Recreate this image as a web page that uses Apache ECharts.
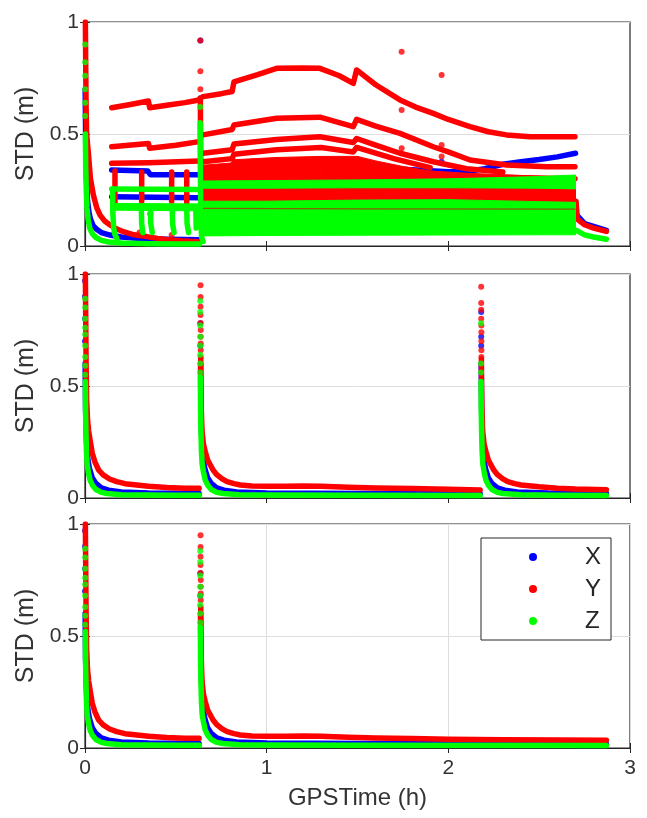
<!DOCTYPE html>
<html>
<head>
<meta charset="utf-8">
<title>STD (m) vs GPSTime (h)</title>
<script src="https://cdn.jsdelivr.net/npm/echarts@6/dist/echarts.min.js"></script>
<style>
  html, body { margin: 0; padding: 0; background: #fff; }
  #chart { width: 647px; height: 818px; }
</style>
</head>
<body>
<div id="chart"></div>
<script>
// Axis ticks shared by the three panels
const X_TICKS = [0, 1, 2, 3];
const Y_TICKS = [0, 0.5, 1];
const COMPONENTS = ['X', 'Y', 'Z'];

// ---------- top panel ----------
const TOP_X_TRACKS = [
  [[0.001,0.7],[0.004,0.45],[0.008,0.3],[0.014,0.2],[0.022,0.15],[0.03,0.12],[0.045,0.09],[0.064,0.075],[0.09,0.06],[0.138,0.049],[0.2,0.04],[0.3,0.034],[0.45,0.03],[0.63,0.028]],
  [[0.147,0.339],[0.345,0.335],[0.36,0.318],[0.625,0.318]],
  [[0.147,0.22],[0.625,0.215]],
  [[0.65,0.34],[0.9,0.35],[1.2,0.36],[1.5,0.35],[1.8,0.34],[2.0,0.332],[2.1,0.333],[2.2,0.345],[2.3,0.365],[2.4,0.376],[2.5,0.386],[2.6,0.398],[2.7,0.414]],
  [[2.705,0.14],[2.75,0.1],[2.87,0.07]]
];
const TOP_X_DOTS = [[0.635,0.917],[0.635,0.66],[0.36,0.143],[1.963,0.376]];
const TOP_X_BANDS = [];

const TOP_Y_TRACKS = [
  [[0.002,1.0],[0.004,0.8],[0.006,0.62],[0.009,0.5],[0.018,0.42],[0.03,0.3],[0.046,0.228],[0.065,0.17],[0.083,0.138],[0.11,0.11],[0.138,0.094],[0.17,0.078],[0.211,0.064],[0.27,0.05],[0.34,0.042],[0.4,0.034],[0.468,0.027],[0.53,0.023],[0.595,0.02],[0.628,0.019]],
  [[0.147,0.617],[0.25,0.632],[0.349,0.647],[0.356,0.617],[0.45,0.628],[0.55,0.64],[0.628,0.652]],
  [[0.147,0.443],[0.349,0.458],[0.356,0.436],[0.5,0.45],[0.628,0.466]],
  [[0.147,0.369],[0.35,0.372],[0.628,0.38]],
  [[0.165,0.335],[0.165,0.17]],
  [[0.312,0.33],[0.312,0.2]],
  [[0.477,0.33],[0.477,0.2]],
  [[0.56,0.33],[0.56,0.17]],
  [[0.635,0.66],[0.636,0.5],[0.637,0.3],[0.638,0.2]],
  [[0.65,0.667],[0.75,0.68],[0.81,0.69],[0.82,0.733],[0.95,0.765],[1.055,0.793],[1.2,0.795],[1.293,0.793],[1.4,0.76],[1.477,0.726],[1.495,0.786],[1.6,0.72],[1.734,0.652],[1.82,0.62],[1.917,0.592],[2.0,0.565],[2.119,0.533],[2.22,0.51],[2.32,0.496],[2.45,0.488],[2.54,0.488],[2.697,0.488]],
  [[0.65,0.496],[0.81,0.52],[0.82,0.54],[1.055,0.57],[1.293,0.575],[1.477,0.533],[1.495,0.565],[1.6,0.535],[1.734,0.503],[1.917,0.443],[2.0,0.42],[2.119,0.384],[2.32,0.362],[2.54,0.354],[2.697,0.354]],
  [[0.65,0.414],[0.81,0.43],[0.82,0.455],[1.055,0.475],[1.293,0.488],[1.477,0.462],[1.495,0.48],[1.6,0.45],[1.734,0.414],[1.917,0.376],[2.1,0.345],[2.3,0.33]],
  [[0.65,0.376],[0.81,0.39],[0.82,0.41],[1.055,0.43],[1.3,0.44],[1.477,0.42],[1.495,0.44],[1.7,0.39],[1.9,0.35]],
  [[2.0,0.31],[2.697,0.3]],
  [[2.703,0.2],[2.71,0.12],[2.75,0.095],[2.8,0.08],[2.87,0.065]]
];
const TOP_Y_DOTS = [[0.635,0.917],[0.635,0.78],[0.635,0.70],[1.743,0.867],[1.743,0.607],[1.743,0.436],[1.963,0.763],[1.963,0.451],[1.963,0.4],[0.477,0.049],[0.3,0.06]];
const TOP_Y_BANDS = [
  [[0.64,0.27,0.36],[0.8,0.27,0.37],[0.82,0.27,0.385],[1.05,0.27,0.395],[1.3,0.27,0.4],[1.5,0.27,0.4],[1.6,0.27,0.38],[1.75,0.27,0.355],[1.9,0.27,0.335],[2.1,0.27,0.325],[2.4,0.27,0.315],[2.7,0.27,0.305]],
  [[0.64,0.198,0.262],[1.5,0.198,0.262],[2.0,0.198,0.265],[2.7,0.195,0.27]]
];

const TOP_Z_TRACKS = [
  [[0.002,0.5],[0.004,0.35],[0.007,0.25],[0.011,0.17],[0.017,0.12],[0.026,0.08],[0.04,0.055],[0.06,0.038],[0.09,0.025],[0.13,0.018],[0.2,0.013],[0.35,0.01],[0.5,0.009],[0.63,0.009]],
  [[0.147,0.255],[0.63,0.252]],
  [[0.152,0.255],[0.153,0.15],[0.158,0.08],[0.165,0.05],[0.175,0.035]],
  [[0.31,0.17],[0.312,0.1],[0.318,0.06]],
  [[0.36,0.17],[0.362,0.1],[0.37,0.06]],
  [[0.48,0.17],[0.482,0.1],[0.49,0.06]],
  [[0.56,0.17],[0.562,0.1],[0.57,0.06]],
  [[0.61,0.17],[0.612,0.08]],
  [[0.634,0.55],[0.635,0.4],[0.636,0.25],[0.638,0.1],[0.642,0.04],[0.65,0.02]],
  [[2.705,0.07],[2.75,0.05],[2.8,0.04],[2.87,0.03]]
];
const TOP_Z_DOTS = [[0.001,0.9],[0.001,0.82],[0.001,0.76],[0.001,0.7],[0.001,0.64],[0.001,0.58],[0.634,0.62]];
const TOP_Z_BANDS = [
  [[0.147,0.16,0.19],[0.63,0.157,0.188]],
  [[0.64,0.258,0.29],[1.0,0.258,0.292],[1.5,0.26,0.295],[2.0,0.26,0.3],[2.5,0.258,0.31],[2.7,0.255,0.317]],
  [[0.64,0.045,0.2],[1.0,0.047,0.2],[1.5,0.048,0.205],[2.0,0.049,0.207],[2.5,0.05,0.198],[2.7,0.05,0.195]]
];
// thin Y trace visible through the Z band
const TOP_Y_THIN = [[0.65,0.168],[1.5,0.166],[2.7,0.165]];

// ---------- middle panel ----------
const MID_X_TRACKS = [
  [[0.001,0.6],[0.003,0.4],[0.006,0.3],[0.01,0.22],[0.016,0.17],[0.025,0.13],[0.04,0.09],[0.06,0.065],[0.09,0.045],[0.13,0.035],[0.2,0.027],[0.35,0.022],[0.628,0.02]],
  [[0.636,0.6],[0.638,0.4],[0.641,0.3],[0.645,0.22],[0.651,0.17],[0.66,0.13],[0.675,0.09],[0.695,0.065],[0.725,0.045],[0.765,0.035],[0.835,0.027],[1.0,0.022],[1.5,0.02],[2.175,0.019]],
  [[2.181,0.6],[2.183,0.4],[2.186,0.3],[2.19,0.22],[2.196,0.17],[2.205,0.13],[2.22,0.09],[2.24,0.065],[2.27,0.045],[2.31,0.035],[2.38,0.027],[2.55,0.022],[2.87,0.02]]
];
const MID_X_DOTS = [[0.0,0.97],[0.0,0.9],[0.0,0.8],[0.0,0.7],[0.635,0.78],[0.635,0.68],[2.181,0.83],[2.181,0.72],[2.181,0.68]];
const MID_X_BANDS = [];

const MID_Y_TRACKS = [
  [[0.002,1.0],[0.004,0.8],[0.006,0.6],[0.009,0.445],[0.014,0.35],[0.02,0.3],[0.0275,0.26],[0.04,0.2],[0.055,0.16],[0.075,0.125],[0.1,0.103],[0.135,0.085],[0.174,0.073],[0.22,0.064],[0.285,0.058],[0.35,0.052],[0.45,0.047],[0.55,0.044],[0.628,0.043]],
  [[0.637,0.62],[0.638,0.5],[0.64,0.4],[0.644,0.3],[0.652,0.24],[0.662,0.207],[0.675,0.17],[0.69,0.147],[0.705,0.125],[0.727,0.103],[0.755,0.085],[0.782,0.073],[0.82,0.064],[0.855,0.058],[0.92,0.054],[1.0,0.052],[1.1,0.053],[1.2,0.054],[1.3,0.052],[1.45,0.048],[1.6,0.045],[1.8,0.042],[2.0,0.039],[2.175,0.036]],
  [[2.182,0.62],[2.183,0.5],[2.185,0.4],[2.189,0.3],[2.197,0.24],[2.207,0.207],[2.22,0.17],[2.235,0.147],[2.25,0.125],[2.272,0.103],[2.3,0.085],[2.327,0.073],[2.365,0.064],[2.4,0.058],[2.5,0.05],[2.6,0.044],[2.7,0.04],[2.87,0.037]]
];
const MID_Y_DOTS = [[0.636,0.95],[0.636,0.897],[0.636,0.854],[0.636,0.817],[0.636,0.781],[0.637,0.75],[0.637,0.72],[0.637,0.69],[0.637,0.66],[0.637,0.63],
  [2.181,0.943],[2.181,0.87],[2.181,0.84],[2.181,0.8],[2.182,0.77],[2.182,0.74],[2.182,0.7],[2.182,0.66],[2.182,0.63]];
const MID_Y_BANDS = [];

const MID_Z_TRACKS = [
  [[0.002,0.52],[0.003,0.4],[0.005,0.3],[0.008,0.207],[0.012,0.15],[0.018,0.117],[0.028,0.08],[0.04,0.058],[0.06,0.038],[0.09,0.025],[0.12,0.02],[0.2,0.015],[0.35,0.013],[0.5,0.012],[0.63,0.012]],
  [[0.635,0.54],[0.636,0.4],[0.638,0.3],[0.641,0.207],[0.645,0.15],[0.652,0.117],[0.662,0.08],[0.675,0.058],[0.695,0.038],[0.725,0.025],[0.76,0.02],[0.85,0.015],[1.0,0.013],[1.5,0.012],[2.175,0.011]],
  [[2.18,0.52],[2.181,0.4],[2.183,0.3],[2.186,0.207],[2.19,0.15],[2.197,0.117],[2.207,0.08],[2.22,0.058],[2.24,0.038],[2.27,0.025],[2.3,0.02],[2.4,0.015],[2.6,0.012],[2.87,0.011]]
];
const MID_Z_DOTS = [[0.001,0.89],[0.001,0.85],[0.001,0.8],[0.001,0.76],[0.001,0.73],[0.001,0.68],[0.001,0.63],[0.001,0.59],[0.001,0.55],
  [0.634,0.88],[0.634,0.83],[0.634,0.77],[0.634,0.72],[0.634,0.68],[0.634,0.64],[0.634,0.6],[0.634,0.56],
  [2.18,0.78],[2.18,0.6],[2.18,0.56]];
const MID_Z_BANDS = [];

// ---------- bottom panel ----------
const LOW_X_TRACKS = [
  [[0.001,0.6],[0.003,0.4],[0.006,0.3],[0.01,0.22],[0.016,0.17],[0.025,0.13],[0.04,0.09],[0.06,0.065],[0.09,0.045],[0.13,0.035],[0.2,0.027],[0.35,0.022],[0.628,0.02]],
  [[0.636,0.6],[0.638,0.4],[0.641,0.3],[0.645,0.22],[0.651,0.17],[0.66,0.13],[0.675,0.09],[0.695,0.065],[0.725,0.045],[0.765,0.035],[0.835,0.027],[1.0,0.022],[1.5,0.02],[2.87,0.018]]
];
const LOW_X_DOTS = [[0.0,0.97],[0.0,0.9],[0.0,0.8],[0.0,0.7],[0.635,0.78],[0.635,0.68]];
const LOW_X_BANDS = [];

const LOW_Y_TRACKS = [
  [[0.002,1.0],[0.004,0.8],[0.006,0.6],[0.009,0.445],[0.014,0.35],[0.02,0.3],[0.0275,0.26],[0.04,0.2],[0.055,0.16],[0.075,0.125],[0.1,0.103],[0.135,0.085],[0.174,0.073],[0.22,0.064],[0.285,0.058],[0.35,0.052],[0.45,0.047],[0.55,0.044],[0.628,0.043]],
  [[0.637,0.62],[0.638,0.5],[0.64,0.4],[0.644,0.3],[0.652,0.24],[0.662,0.207],[0.675,0.17],[0.69,0.147],[0.705,0.125],[0.727,0.103],[0.755,0.085],[0.782,0.073],[0.82,0.064],[0.855,0.058],[0.92,0.054],[1.0,0.052],[1.1,0.053],[1.2,0.054],[1.3,0.052],[1.45,0.048],[1.6,0.045],[1.8,0.042],[2.0,0.039],[2.3,0.037],[2.6,0.036],[2.87,0.035]]
];
const LOW_Y_DOTS = [[0.636,0.95],[0.636,0.897],[0.636,0.854],[0.636,0.817],[0.636,0.781],[0.637,0.75],[0.637,0.72],[0.637,0.69],[0.637,0.66],[0.637,0.63]];
const LOW_Y_BANDS = [];

const LOW_Z_TRACKS = [
  [[0.002,0.52],[0.003,0.4],[0.005,0.3],[0.008,0.207],[0.012,0.15],[0.018,0.117],[0.028,0.08],[0.04,0.058],[0.06,0.038],[0.09,0.025],[0.12,0.02],[0.2,0.015],[0.35,0.013],[0.5,0.012],[0.63,0.012]],
  [[0.635,0.54],[0.636,0.4],[0.638,0.3],[0.641,0.207],[0.645,0.15],[0.652,0.117],[0.662,0.08],[0.675,0.058],[0.695,0.038],[0.725,0.025],[0.76,0.02],[0.85,0.015],[1.0,0.013],[1.5,0.012],[2.87,0.011]]
];
const LOW_Z_DOTS = [[0.001,0.89],[0.001,0.85],[0.001,0.8],[0.001,0.76],[0.001,0.73],[0.001,0.68],[0.001,0.63],[0.001,0.59],[0.001,0.55],
  [0.634,0.88],[0.634,0.83],[0.634,0.77],[0.634,0.72],[0.634,0.68],[0.634,0.64],[0.634,0.6],[0.634,0.56]];
const LOW_Z_BANDS = [];

// ---------- drawing ----------
const COLOR = { X: '#0000ff', Y: '#ff0000', Z: '#00ff00' };
const FONT = '"Liberation Sans", Arial, Helvetica, sans-serif';
const TEXT = '#262626';

const PANELS = [
  { top: 22,  X: [TOP_X_BANDS, TOP_X_TRACKS, TOP_X_DOTS], Y: [TOP_Y_BANDS, TOP_Y_TRACKS, TOP_Y_DOTS], Z: [TOP_Z_BANDS, TOP_Z_TRACKS, TOP_Z_DOTS], vGrid: false },
  { top: 274, X: [MID_X_BANDS, MID_X_TRACKS, MID_X_DOTS], Y: [MID_Y_BANDS, MID_Y_TRACKS, MID_Y_DOTS], Z: [MID_Z_BANDS, MID_Z_TRACKS, MID_Z_DOTS], vGrid: false },
  { top: 524, X: [LOW_X_BANDS, LOW_X_TRACKS, LOW_X_DOTS], Y: [LOW_Y_BANDS, LOW_Y_TRACKS, LOW_Y_DOTS], Z: [LOW_Z_BANDS, LOW_Z_TRACKS, LOW_Z_DOTS], vGrid: true }
];

// every mark gets its own z so X is painted first, then Y, then Z
let zOrder = 2;
function bandSeries(name, band, g) {
  const color = COLOR[name];
  return {
    type: 'custom', name, xAxisIndex: g, yAxisIndex: g, data: band, silent: true, animation: false, clip: true,
    z: zOrder++, itemStyle: { color },
    encode: { x: 0, y: [1, 2] },
    renderItem(params, api) {
      const i = params.dataIndex;
      if (i >= band.length - 1) return null;
      const a = band[i], b = band[i + 1];
      const pts = [api.coord([a[0], a[1]]), api.coord([b[0], b[1]]), api.coord([b[0], b[2]]), api.coord([a[0], a[2]])];
      return { type: 'polygon', shape: { points: pts }, style: { fill: color, stroke: color, lineWidth: 1 } };
    }
  };
}
function trackSeries(name, pts, g, width) {
  const color = COLOR[name];
  return {
    type: 'line', name, xAxisIndex: g, yAxisIndex: g, data: pts, symbol: 'none', showSymbol: false,
    silent: true, animation: false, clip: true, z: zOrder++, itemStyle: { color },
    lineStyle: { color, width: width || 5.5, cap: 'round', join: 'round' }
  };
}
function dotSeries(name, pts, g) {
  const color = COLOR[name];
  return {
    type: 'scatter', name, xAxisIndex: g, yAxisIndex: g, data: pts, symbol: 'circle', symbolSize: 6,
    silent: true, animation: false, clip: true, z: zOrder++, itemStyle: { color }
  };
}

const grids = [], xAxes = [], yAxes = [], series = [];
PANELS.forEach((p, g) => {
  grids.push({ left: 85, width: 545, top: p.top, height: 224, show: true, borderColor: TEXT, borderWidth: 1.2, backgroundColor: '#fff' });
  const last = g === PANELS.length - 1;
  xAxes.push({
    type: 'value', gridIndex: g, min: X_TICKS[0], max: X_TICKS[X_TICKS.length - 1], interval: 1,
    axisLine: { show: true, onZero: false, lineStyle: { color: TEXT, width: 1.2 } },
    axisTick: { show: true, inside: true, length: 5, lineStyle: { color: TEXT } },
    axisLabel: { show: last, fontSize: 21, color: '#333', fontFamily: FONT, margin: 10 },
    splitLine: { show: p.vGrid, lineStyle: { color: '#dedede', width: 1 } },
    name: last ? 'GPSTime (h)' : '', nameLocation: 'middle', nameGap: 38,
    nameTextStyle: { fontSize: 24, color: '#333', fontFamily: FONT }
  });
  yAxes.push({
    type: 'value', gridIndex: g, min: Y_TICKS[0], max: Y_TICKS[Y_TICKS.length - 1], interval: 0.5,
    axisLine: { show: true, onZero: false, lineStyle: { color: TEXT, width: 1.2 } },
    axisTick: { show: true, inside: true, length: 5, lineStyle: { color: TEXT } },
    axisLabel: { show: true, fontSize: 21, color: '#333', fontFamily: FONT, margin: 6 },
    splitLine: { show: true, lineStyle: { color: '#dedede', width: 1 } },
    name: 'STD (m)', nameLocation: 'middle', nameGap: 46, nameRotate: 90,
    nameTextStyle: { fontSize: 25, color: '#333', fontFamily: FONT }
  });
  COMPONENTS.forEach(name => {
    const [bands, tracks, dots] = p[name];
    bands.forEach(b => series.push(bandSeries(name, b, g)));
    tracks.forEach(t => series.push(trackSeries(name, t, g)));
    series.push(dotSeries(name, dots, g));
  });
  if (g === 0) {
    const thin = trackSeries('Y', TOP_Y_THIN, 0, 1.2);
    thin.lineStyle = { color: '#c0180a', width: 1.2, opacity: 0.7 };
    series.push(thin);
  }
});
// mirrored ticks on the top and right edges of each panel
PANELS.forEach((p, g) => {
  xAxes.push({ type: 'value', gridIndex: g, position: 'top', min: 0, max: 3, interval: 1,
    axisLine: { show: false }, axisTick: { show: true, inside: true, length: 5, lineStyle: { color: TEXT } },
    axisLabel: { show: false }, splitLine: { show: false } });
  yAxes.push({ type: 'value', gridIndex: g, position: 'right', min: 0, max: 1, interval: 0.5,
    axisLine: { show: false }, axisTick: { show: true, inside: true, length: 5, lineStyle: { color: TEXT } },
    axisLabel: { show: false }, splitLine: { show: false } });
});

const chart = echarts.init(document.getElementById('chart'), null, { renderer: 'canvas' });
chart.setOption({
  backgroundColor: '#fff',
  animation: false,
  grid: grids,
  xAxis: xAxes,
  yAxis: yAxes,
  legend: {
    data: COMPONENTS.map(n => ({ name: n, icon: 'circle', itemStyle: { color: COLOR[n] } })),
    orient: 'vertical', left: 481, top: 538, padding: [7, 10, 7, 48], z: 1000,
    itemWidth: 8, itemHeight: 8, itemGap: 8,
    borderColor: TEXT, borderWidth: 1, backgroundColor: '#fff',
    selectedMode: false,
    textStyle: { fontSize: 24, color: TEXT, fontFamily: FONT, lineHeight: 24, padding: [0, 0, 0, 43] }
  },
  series
});
</script>
</body>
</html>
